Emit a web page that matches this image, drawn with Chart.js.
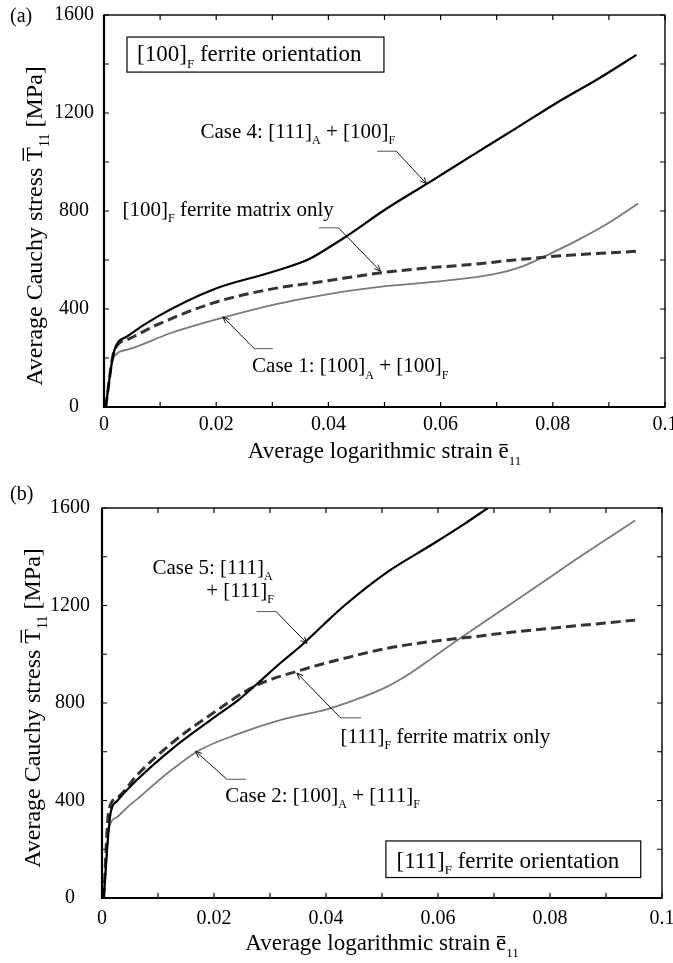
<!DOCTYPE html>
<html>
<head>
<meta charset="utf-8">
<script src="https://cdn.jsdelivr.net/npm/chart.js@4.4.0/dist/chart.umd.min.js"></script>
<style>
html,body{margin:0;padding:0;background:#fff;}
#wrapA{position:absolute;left:0;top:0;width:673px;height:480px;}
#wrapB{position:absolute;left:0;top:480px;width:673px;height:483px;}
</style>
</head>
<body>
<div id="wrapA"><canvas id="chartA" width="673" height="480"></canvas></div>
<div id="wrapB"><canvas id="chartB" width="673" height="483"></canvas></div>
<script>
// tick labels
const xTickLabels = ['0','0.02','0.04','0.06','0.08','0.1'];
const yTickLabels = ['0','400','800','1200','1600'];

// (a) [100] ferrite
const aCase4Strain = [0.0003,0.0018,0.0042,0.0096,0.0195,0.0295,0.0364,0.0395,0.0433,0.0502,0.0579,0.0655,0.0732,0.0808,0.0885,0.0949];
const aCase4Stress = [0,227,289,370,480,548,602,643,698,807,916,1025,1134,1243,1345,1437];
const aMatrixStrain = [0.0003,0.0018,0.0042,0.0096,0.0195,0.0295,0.0395,0.0494,0.0579,0.0655,0.0732,0.0808,0.0952];
const aMatrixStress = [0,227,275,337,425,480,514,548,568,582,600,616,636];
const aCase1Strain = [0.0003,0.0015,0.0042,0.0119,0.0211,0.0303,0.0395,0.0502,0.0602,0.0693,0.0747,0.0793,0.0847,0.0900,0.0952];
const aCase1Stress = [0,193,234,302,364,418,459,493,514,541,575,623,684,752,831];

// (b) [111] ferrite
const bCase5Strain = [0.0003,0.0015,0.0027,0.0065,0.0127,0.0203,0.0245,0.0280,0.0318,0.0357,0.0395,0.0434,0.0510,0.0587,0.0648,0.0689];
const bCase5Stress = [0,343,398,490,615,745,815,885,963,1038,1120,1202,1338,1447,1536,1600];
const bMatrixStrain = [0.0003,0.0012,0.0027,0.0065,0.0127,0.0203,0.0272,0.0357,0.0434,0.0510,0.0587,0.0664,0.0741,0.0817,0.0952];
const bMatrixStress = [0,357,411,510,640,766,868,936,984,1025,1052,1072,1093,1110,1140];
const bCase2Strain = [0.0003,0.0012,0.0027,0.0045,0.0065,0.0100,0.0127,0.0173,0.0242,0.0318,0.0403,0.0472,0.0510,0.0549,0.0587,0.0633,0.0702,0.0779,0.0856,0.0952];
const bCase2Stress = [0,280,332,372,410,480,530,605,672,730,775,830,868,920,980,1055,1163,1283,1404,1549];

const SERIF = "'Liberation Serif', 'Times New Roman', serif";

function pts(xs, ys){ return xs.map((x,i)=>({x, y:ys[i]})); }

function fontFor(p, size){
  return (p.sub ? Math.round(size*0.58) : size) + 'px ' + SERIF;
}
function drawRich(ctx, parts, x, y, size, align){
  let w = 0;
  parts.forEach(p=>{ ctx.font = fontFor(p,size); w += ctx.measureText(p.t).width; });
  let cx = align === 'center' ? x - w/2 : x;
  parts.forEach(p=>{
    ctx.font = fontFor(p,size);
    const pw = ctx.measureText(p.t).width;
    ctx.fillText(p.t, cx, y + (p.sub ? size*0.3 : 0));
    if (p.bar){
      const by = y - (p.bar === 'cap' ? size*0.78 : size*0.58);
      ctx.beginPath(); ctx.lineWidth = 1.4;
      ctx.moveTo(cx+1, by); ctx.lineTo(cx+pw-1, by); ctx.stroke();
    }
    cx += pw;
  });
}

function decor(cfg){
  return {
    id: 'decor',
    afterDraw(chart){
      const {ctx, chartArea:a, scales:{x, y}} = chart;
      ctx.save();
      ctx.strokeStyle = '#000'; ctx.fillStyle = '#000';
      ctx.textBaseline = 'alphabetic'; ctx.textAlign = 'left';
      // inward ticks on all sides
      ctx.lineWidth = 1.2;
      ctx.beginPath();
      x.ticks.forEach(t=>{
        const px = x.getPixelForValue(t.value);
        ctx.moveTo(px, a.bottom); ctx.lineTo(px, a.bottom-5);
        ctx.moveTo(px, a.top); ctx.lineTo(px, a.top+5);
      });
      y.ticks.forEach(t=>{
        const py = y.getPixelForValue(t.value);
        ctx.moveTo(a.left, py); ctx.lineTo(a.left+5, py);
        ctx.moveTo(a.right, py); ctx.lineTo(a.right-5, py);
      });
      ctx.stroke();
      // frame
      ctx.lineWidth = 1.4;
      ctx.strokeRect(a.left, a.top, a.width, a.height);
      ctx.lineWidth = 2.2;
      ctx.beginPath();
      ctx.moveTo(a.left, a.top); ctx.lineTo(a.left, a.bottom); ctx.lineTo(a.right, a.bottom);
      ctx.stroke();
      // panel tag
      ctx.font = '20px ' + SERIF;
      ctx.fillText(cfg.tag, 10, cfg.tagY);
      // x title
      drawRich(ctx, [{t:'Average logarithmic strain '},{t:'e',bar:'x'},{t:'11',sub:1}],
        (a.left+a.right)/2, cfg.xTitleY, 23, 'center');
      // y title
      ctx.save();
      ctx.translate(cfg.yTitleX, cfg.yTitleC);
      ctx.rotate(-Math.PI/2);
      drawRich(ctx, [{t:'Average Cauchy stress '},{t:'T',bar:'cap'},{t:'11',sub:1},{t:' [MPa]'}], 0, 0, 24, 'center');
      ctx.restore();
      // annotations
      cfg.notes.forEach(n=>{
        if (n.type === 'box'){
          const x0 = x.getPixelForValue(n.x0), x1 = x.getPixelForValue(n.x1);
          const y0 = y.getPixelForValue(n.y0), y1 = y.getPixelForValue(n.y1);
          ctx.fillStyle = '#fff'; ctx.fillRect(x0, y0, x1-x0, y1-y0);
          ctx.fillStyle = '#000'; ctx.lineWidth = 1.2;
          ctx.strokeRect(x0, y0, x1-x0, y1-y0);
        } else if (n.type === 'text'){
          drawRich(ctx, n.parts, x.getPixelForValue(n.x), y.getPixelForValue(n.y), n.size, 'left');
        } else if (n.type === 'leader'){
          const P = n.pts.map(p=>[x.getPixelForValue(p[0]), y.getPixelForValue(p[1])]);
          ctx.lineWidth = 1; ctx.strokeStyle = '#555';
          ctx.beginPath(); ctx.moveTo(P[0][0], P[0][1]); ctx.lineTo(P[1][0], P[1][1]); ctx.stroke();
          ctx.strokeStyle = '#111';
          ctx.beginPath(); ctx.moveTo(P[1][0], P[1][1]); ctx.lineTo(P[2][0], P[2][1]); ctx.stroke();
          const ang = Math.atan2(P[2][1]-P[1][1], P[2][0]-P[1][0]);
          ctx.beginPath();
          ctx.moveTo(P[2][0]-7*Math.cos(ang-0.4), P[2][1]-7*Math.sin(ang-0.4));
          ctx.lineTo(P[2][0], P[2][1]);
          ctx.lineTo(P[2][0]-7*Math.cos(ang+0.4), P[2][1]-7*Math.sin(ang+0.4));
          ctx.stroke();
          ctx.strokeStyle = '#000';
        }
      });
      ctx.restore();
    }
  };
}

function makeChart(id, sets, geo, cfg){
  const ds = sets.map(s=>({
    data: s.data, borderColor: s.color, borderWidth: s.width, borderDash: s.dash || [],
    pointRadius: 0, fill: false, cubicInterpolationMode: 'monotone', order: s.order
  }));
  return new Chart(document.getElementById(id), {
    type: 'line',
    data: { datasets: ds },
    options: {
      responsive: false, animation: false, devicePixelRatio: 1,
      layout: { padding: { left: 0, top: geo.top, right: geo.right, bottom: 0 } },
      plugins: { legend: { display: false }, tooltip: { enabled: false } },
      scales: {
        x: {
          type: 'linear', min: 0, max: 0.1,
          grid: { display: false }, border: { display: false },
          ticks: {
            stepSize: 0.01, padding: geo.xPad, maxRotation: 0, autoSkip: false,
            color: '#000', font: { family: SERIF, size: 20 },
            callback: v => { const s = String(Number(v.toFixed(2))); return xTickLabels.includes(s) ? s : ''; }
          },
          afterFit: s => { s.height = geo.xH; s.paddingLeft = 0; s.paddingRight = 0; }
        },
        y: {
          type: 'linear', min: 0, max: 1600,
          grid: { display: false }, border: { display: false },
          ticks: {
            stepSize: 200, padding: geo.yPad, autoSkip: false, crossAlign: 'center',
            color: '#000', font: { family: SERIF, size: 20 },
            callback: v => { const s = String(Math.round(v)); return yTickLabels.includes(s) ? s : ''; }
          },
          afterFit: s => { s.width = geo.yW; s.paddingTop = 0; s.paddingBottom = 0; }
        }
      }
    },
    plugins: [decor(cfg)]
  });
}

const BLACK = '#000', GRAY = '#7a7a7a', DASH = '#333';

makeChart('chartA', [
  { data: pts(aCase1Strain, aCase1Stress), color: GRAY, width: 1.8, order: 3 },
  { data: pts(aMatrixStrain, aMatrixStress), color: DASH, width: 3, dash: [10,5], order: 2 },
  { data: pts(aCase4Strain, aCase4Stress), color: BLACK, width: 2.2, order: 1 }
], { top: 15, right: 8, xH: 73, yW: 104, xPad: -2, yPad: 2 }, {
  tag: '(a)', tagY: 22, xTitleY: 458, yTitleX: 42, yTitleC: 226,
  notes: [
    { type:'box', x0:0.0041, x1:0.0499, y0:1510, y1:1367 },
    { type:'text', x:0.0059, y:1412, size:23, parts:[{t:'[100]'},{t:'F',sub:1},{t:' ferrite orientation'}] },
    { type:'text', x:0.0172, y:1099, size:21, parts:[{t:'Case 4: [111]'},{t:'A',sub:1},{t:' + [100]'},{t:'F',sub:1}] },
    { type:'leader', pts:[[0.0487,1044],[0.0521,1044],[0.0575,911]] },
    { type:'text', x:0.0033, y:779, size:21, parts:[{t:'[100]'},{t:'F',sub:1},{t:' ferrite matrix only'}] },
    { type:'leader', pts:[[0.0383,731],[0.0418,731],[0.0493,554]] },
    { type:'text', x:0.0264, y:142, size:21, parts:[{t:'Case 1: [100]'},{t:'A',sub:1},{t:' + [100]'},{t:'F',sub:1}] },
    { type:'leader', pts:[[0.0301,238],[0.0268,238],[0.0212,368]] }
  ]
});

makeChart('chartB', [
  { data: pts(bCase2Strain, bCase2Stress), color: GRAY, width: 1.8, order: 3 },
  { data: pts(bMatrixStrain, bMatrixStress), color: DASH, width: 3, dash: [10,5], order: 2 },
  { data: pts(bCase5Strain, bCase5Stress), color: BLACK, width: 2.2, order: 1 }
], { top: 28, right: 11, xH: 65, yW: 102, xPad: 1, yPad: 4 }, {
  tag: '(b)', tagY: 20, xTitleY: 470, yTitleX: 40, yTitleC: 228,
  notes: [
    { type:'text', x:0.0090, y:1331, size:21, parts:[{t:'Case 5: [111]'},{t:'A',sub:1}] },
    { type:'text', x:0.0186, y:1236, size:21, parts:[{t:'+ [111]'},{t:'F',sub:1}] },
    { type:'leader', pts:[[0.0276,1175],[0.0311,1175],[0.0366,1045]] },
    { type:'text', x:0.0426, y:636, size:21, parts:[{t:'[111]'},{t:'F',sub:1},{t:' ferrite matrix only'}] },
    { type:'leader', pts:[[0.0463,739],[0.0426,739],[0.0348,923]] },
    { type:'text', x:0.0220, y:395, size:21, parts:[{t:'Case 2: [100]'},{t:'A',sub:1},{t:' + [111]'},{t:'F',sub:1}] },
    { type:'leader', pts:[[0.0257,487],[0.0223,487],[0.0167,602]] },
    { type:'box', x0:0.0507, x1:0.0962, y0:234, y1:84 },
    { type:'text', x:0.0526, y:125, size:23, parts:[{t:'[111]'},{t:'F',sub:1},{t:' ferrite orientation'}] }
  ]
});
</script>
</body>
</html>
